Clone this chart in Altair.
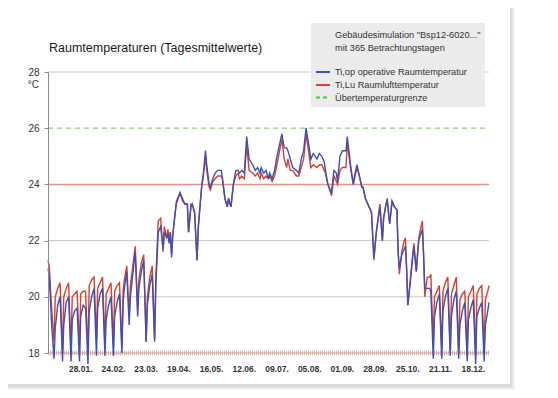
import altair as alt
import pandas as pd

# ---- data ----
days = [1, 2, 4, 6, 7, 9, 11, 13, 14, 16, 18, 20, 21, 23, 25, 27, 28, 30, 32, 34, 35, 37, 39,
        41, 42, 44, 46, 48, 49, 51, 53, 55, 56, 58, 60, 62, 63, 64, 66, 68, 69, 71, 73, 75, 76,
        78, 80, 82, 83, 85, 87, 89, 90, 92, 94, 96, 97, 99, 100, 101, 102, 103, 104, 106, 107,
        110, 112, 114, 116, 117, 119, 120, 122, 124, 125, 127, 128, 129, 131, 132, 134, 135, 137,
        139, 141, 144, 145, 147, 149, 150, 152, 154, 156, 158, 159, 161, 163, 165, 167, 170, 172,
        174, 176, 177, 179, 181, 183, 184, 186, 188, 190, 194, 196, 198, 199, 201, 203, 206, 208,
        210, 212, 214, 217, 218, 220, 223, 225, 227, 229, 230, 232, 235, 237, 239, 240, 242, 244,
        247, 248, 251, 253, 254, 256, 258, 260, 261, 263, 266, 268, 270, 272, 274, 275, 277, 278,
        280, 281, 283, 285, 287, 289, 290, 291, 293, 295, 296, 297, 298, 300, 302, 303, 305, 306,
        307, 310, 311, 312, 314, 316, 317, 319, 320, 322, 324, 326, 327, 329, 331, 333, 334, 336,
        338, 340, 341, 343, 345, 347, 348, 350, 352, 354, 355, 357, 359, 361, 362, 364, 365]

ti_op = [21.0, 20.8, 19.0, 17.8, 18.9, 19.7, 20.0, 17.7, 19.0, 19.8, 20.0, 17.7, 19.2, 19.5, 19.6,
         17.7, 19.3, 19.7, 19.6, 17.6, 19.5, 20.0, 20.3, 17.9, 19.6, 20.1, 20.3, 17.9, 19.2, 19.7,
         20.0, 17.9, 19.3, 19.8, 20.1, 18.0, 19.8, 20.3, 20.9, 19.0, 20.0, 20.8, 21.6, 19.3, 20.3,
         20.9, 21.3, 18.4, 19.7, 20.4, 20.8, 18.4, 20.4, 22.3, 22.5, 21.7, 22.3, 22.1, 22.2, 21.9,
         22.3, 21.4, 22.2, 23.0, 23.4, 23.7, 23.5, 23.3, 23.3, 22.3, 23.2, 23.3, 23.0, 21.3, 22.4,
         23.5, 24.0, 24.3, 25.2, 24.7, 24.0, 23.9, 24.2, 24.4, 24.5, 24.5, 24.2, 23.5, 23.2, 23.5,
         23.2, 24.0, 24.5, 24.5, 24.4, 24.5, 24.4, 25.7, 24.9, 24.7, 24.5, 24.6, 24.4, 24.6, 24.4,
         24.5, 24.2, 24.4, 24.2, 24.5, 25.0, 25.8, 25.3, 25.3, 25.2, 24.9, 24.6, 24.5, 24.4, 24.9,
         25.2, 26.0, 25.2, 24.9, 25.1, 24.9, 25.1, 25.0, 24.8, 24.5, 24.0, 23.7, 24.5, 24.4, 24.1,
         25.0, 25.2, 25.2, 25.7, 24.6, 24.0, 24.3, 24.7, 24.3, 23.9, 23.9, 23.5, 23.2, 23.0, 21.4,
         22.3, 22.9, 23.2, 22.0, 22.8, 23.3, 23.4, 22.6, 23.4, 23.2, 23.1, 21.6, 21.0, 21.5, 21.7,
         21.8, 21.0, 19.7, 20.5, 21.4, 21.8, 20.9, 21.5, 22.0, 22.4, 21.5, 20.3, 20.3, 20.3, 20.2,
         17.8, 19.3, 19.8, 20.1, 17.8, 19.5, 20.0, 20.3, 17.9, 19.3, 19.9, 20.2, 17.8, 19.0, 19.5,
         19.8, 17.7, 19.2, 19.6, 19.9, 17.6, 19.3, 19.6, 19.8, 17.7, 19.0, 19.5, 19.8]

ti_lu = [21.3, 21.1, 19.6, 18.4, 20.0, 20.3, 20.5, 18.0, 20.0, 20.3, 20.5, 18.1, 20.0, 20.1, 20.2,
         18.1, 20.1, 20.2, 20.2, 18.0, 20.4, 20.6, 20.7, 18.5, 20.3, 20.5, 20.7, 18.3, 20.1, 20.3,
         20.5, 18.2, 20.2, 20.4, 20.5, 18.2, 20.2, 20.6, 21.1, 19.3, 20.4, 21.1, 21.8, 19.5, 20.6,
         21.2, 21.5, 18.4, 20.0, 20.7, 21.1, 18.5, 20.7, 22.7, 22.8, 21.6, 22.5, 22.1, 22.4, 22.0,
         22.3, 21.5, 22.2, 23.0, 23.3, 23.7, 23.4, 23.3, 23.3, 22.3, 23.3, 23.3, 23.0, 21.3, 22.5,
         23.5, 24.0, 24.2, 25.0, 24.5, 23.9, 23.8, 24.1, 24.2, 24.3, 24.3, 24.2, 23.5, 23.2, 23.5,
         23.2, 24.0, 24.3, 24.4, 24.2, 24.3, 24.2, 25.4, 24.5, 24.4, 24.3, 24.4, 24.2, 24.4, 24.2,
         24.3, 24.2, 24.3, 24.1, 24.3, 24.7, 25.6, 24.9, 24.6, 24.9, 24.5, 24.5, 24.3, 24.3, 24.6,
         24.9, 25.8, 24.9, 24.6, 24.7, 24.6, 24.7, 24.7, 24.5, 24.4, 24.0, 23.6, 24.3, 24.1, 24.0,
         24.5, 24.6, 24.6, 25.5, 24.5, 24.0, 24.2, 24.6, 24.3, 23.9, 23.9, 23.5, 23.2, 23.0, 21.3,
         22.3, 23.0, 23.3, 22.0, 22.8, 23.3, 23.5, 22.6, 23.4, 23.2, 23.1, 21.6, 20.8, 21.6, 22.0,
         22.1, 21.0, 19.7, 20.6, 21.5, 21.9, 20.9, 21.5, 22.1, 22.7, 21.5, 20.0, 20.7, 20.7, 20.8,
         18.3, 20.0, 20.2, 20.4, 18.1, 20.2, 20.5, 20.7, 18.1, 20.1, 20.4, 20.7, 18.0, 19.9, 20.1,
         20.2, 18.0, 20.0, 20.2, 20.4, 18.0, 20.1, 20.3, 20.4, 18.0, 19.9, 20.2, 20.4]

tick_days = [28, 55, 82, 109, 136, 163, 190, 217, 244, 271, 298, 325, 352]
tick_labels = ["28.01.", "24.02.", "23.03.", "19.04.", "16.05.", "12.06.", "09.07.",
               "05.08.", "01.09.", "28.09.", "25.10.", "21.11.", "18.12."]
y_ticks = [18, 20, 22, 24, 26, 28]
grid_levels = [20, 22, 28]
comfort_limit = [24]
overtemp_limit = [26]
lower_limit = [18]

title_text = "Raumtemperaturen (Tagesmittelwerte)"
info_lines = ['Gebäudesimulation "Bsp12-6020..."', "mit 365 Betrachtungstagen"]
legend_labels = ["Ti,op operative Raumtemperatur", "Ti,Lu Raumlufttemperatur",
                 "Übertemperaturgrenze"]

# ---- styling ----
FONT = "Liberation Sans"
W, H = 441, 281
BLUE = "#3f4fb4"
RED = "#d8402f"
SALMON = "#e6937f"
GREEN = "#8fcf76"
GRID = "#c8c8c8"

yscale = alt.Scale(domain=[18, 28], nice=False, zero=False)
xscale = alt.Scale(domain=[1, 365], nice=False, zero=False)
yaxis = alt.Axis(values=y_ticks, title=None, grid=False, domain=True, domainColor="#8c8c8c",
                 ticks=True, tickSize=4, tickColor="#8c8c8c", labelPadding=5, zindex=1,
                 labelFont=FONT, labelFontSize=10, labelColor="#333333")


def Y(field):
    return alt.Y(field, scale=yscale, axis=yaxis)


one = pd.DataFrame({"a": [0]})

layers = []

# card shadow and card
for i in range(1, 5):
    layers.append(alt.Chart(one).mark_rect(color="#000000", opacity=0.035).encode(
        x=alt.value(-41 - i), x2=alt.value(462 + i + 1),
        y=alt.value(-65 - i * 0.5), y2=alt.value(312 + i + 2)))
layers.append(alt.Chart(one).mark_rect(color="#ffffff").encode(
    x=alt.value(-41), x2=alt.value(462), y=alt.value(-65), y2=alt.value(312)))

# gridlines
layers.append(alt.Chart(pd.DataFrame({"v": grid_levels})).mark_rule(color=GRID, strokeWidth=1).encode(
    y=Y("v:Q"), x=alt.value(0), x2=alt.value(W)))

# lower band at 18
layers.append(alt.Chart(pd.DataFrame({"v": lower_limit})).mark_rule(
    color="#c4c4c4", strokeWidth=5, strokeDash=[1, 1]).encode(
    y=Y("v:Q"), x=alt.value(0), x2=alt.value(W)))
layers.append(alt.Chart(pd.DataFrame({"v": lower_limit})).mark_rule(
    color=SALMON, strokeWidth=1).encode(
    y=Y("v:Q"), x=alt.value(0), x2=alt.value(W)))

# limit lines
layers.append(alt.Chart(pd.DataFrame({"v": comfort_limit})).mark_rule(
    color=SALMON, strokeWidth=1.5).encode(
    y=Y("v:Q"), x=alt.value(0), x2=alt.value(W)))
layers.append(alt.Chart(pd.DataFrame({"v": overtemp_limit})).mark_rule(
    color=GREEN, strokeWidth=1.2, strokeDash=[5, 4]).encode(
    y=Y("v:Q"), x=alt.value(0), x2=alt.value(W)))

# series
df = pd.DataFrame({"day": days, "op": ti_op, "lu": ti_lu})
layers.append(alt.Chart(df).mark_line(color=RED, strokeWidth=1.4).encode(
    x=alt.X("day:Q", scale=xscale, axis=None), y=Y("lu:Q")))
layers.append(alt.Chart(df).mark_line(color=BLUE, strokeWidth=1.4).encode(
    x=alt.X("day:Q", scale=xscale, axis=None), y=Y("op:Q")))

# x labels
layers.append(alt.Chart(pd.DataFrame({"day": tick_days, "lab": tick_labels})).mark_text(
    font=FONT, fontSize=8.5, fontWeight="bold", color="#333333", baseline="middle", align="center").encode(
    x=alt.X("day:Q", scale=xscale, axis=None), y=alt.value(297), text="lab:N"))

# unit label
layers.append(alt.Chart(one).mark_text(text="°C", font=FONT, fontSize=10, color="#333333",
                                       align="right", baseline="middle").encode(
    x=alt.value(-9), y=alt.value(13)))

# title
layers.append(alt.Chart(one).mark_text(text=title_text, font=FONT, fontSize=12.5, color="#1a1a1a",
                                       align="left", baseline="alphabetic").encode(
    x=alt.value(1), y=alt.value(-20)))

# legend box
layers.append(alt.Chart(one).mark_rect(color="#ebebeb").encode(
    x=alt.value(263), x2=alt.value(437), y=alt.value(-49), y2=alt.value(35)))
for txt, yy in zip(info_lines, [-37, -24]):
    layers.append(alt.Chart(one).mark_text(text=txt, font=FONT, fontSize=9.2, color="#333333",
                                           align="left", baseline="middle").encode(
        x=alt.value(287), y=alt.value(yy)))
leg_y = [0, 13, 25.5]
leg_styles = [(BLUE, None), (RED, None), ("#5dbb3f", [4, 3])]
for (col, dash), yy, txt in zip(leg_styles, leg_y, legend_labels):
    kw = {"color": col, "strokeWidth": 2}
    if dash:
        kw["strokeDash"] = dash
    layers.append(alt.Chart(one).mark_rule(**kw).encode(
        x=alt.value(268), x2=alt.value(282), y=alt.value(yy)))
    layers.append(alt.Chart(one).mark_text(text=txt, font=FONT, fontSize=9.2, color="#333333",
                                           align="left", baseline="middle").encode(
        x=alt.value(287), y=alt.value(yy)))

chart = alt.layer(*layers).properties(
    width=W, height=H,
    padding={"left": 40, "top": 64, "right": 61, "bottom": 37},
    autosize=alt.AutoSizeParams(type="none"),
).configure(background="white").configure_view(strokeWidth=0)

chart.save("out.html", embed_options={"renderer": "svg", "actions": False})
